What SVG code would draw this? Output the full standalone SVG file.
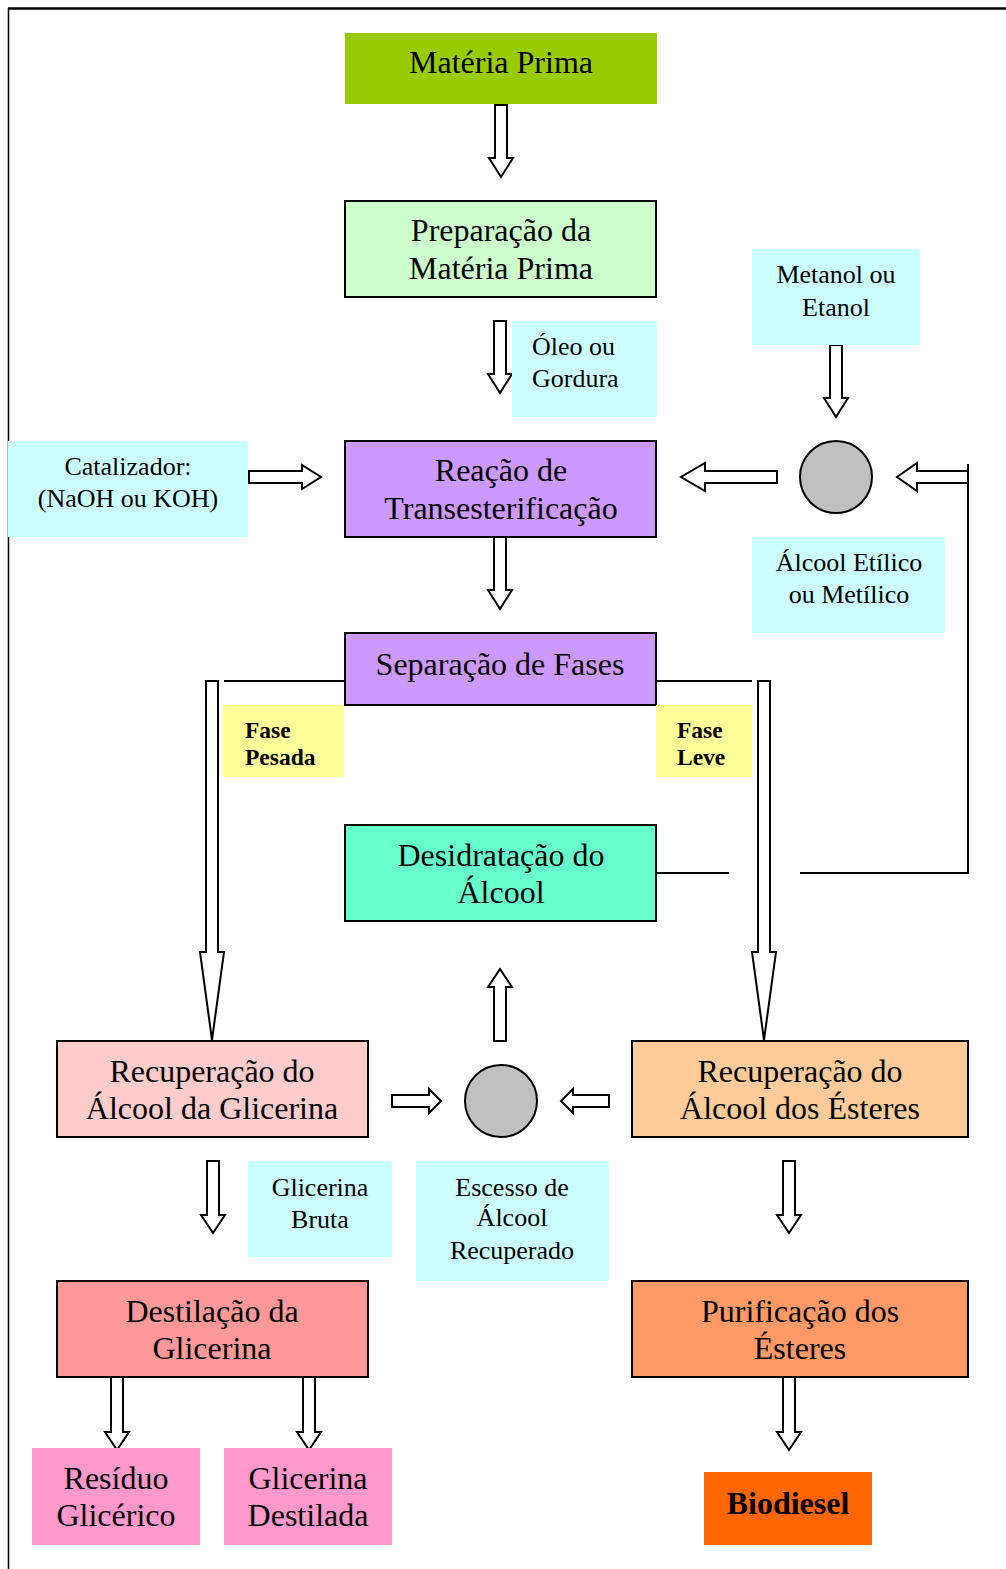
<svg xmlns="http://www.w3.org/2000/svg" width="1006" height="1569" viewBox="0 0 1006 1569">
<style>
.box{stroke:#000;stroke-width:2}
.lbl{stroke:none}
.t{font-family:"Liberation Serif","Times New Roman",serif;font-size:32px;text-anchor:middle;fill:#000}
.s{font-family:"Liberation Serif","Times New Roman",serif;font-size:26px;text-anchor:middle;fill:#000}
.sl{font-family:"Liberation Serif","Times New Roman",serif;font-size:26px;fill:#000}
.b{font-family:"Liberation Serif","Times New Roman",serif;font-size:23.5px;font-weight:bold;fill:#000}
.arr{fill:#fff;stroke:#000;stroke-width:2;stroke-linejoin:miter}
.ln{fill:none;stroke:#000;stroke-width:2}
</style>
<rect width="1006" height="1569" fill="#fff"/>
<g id="frame">
<line x1="8" y1="8.5" x2="1006" y2="8.5" stroke="#000" stroke-width="2.5"/>
<line x1="8.5" y1="8" x2="8.5" y2="1569" stroke="#000" stroke-width="1.5"/>
</g>
<g id="connectors">
<path class="arr" d="M495,105 H507 V158 H513 L501,177 L489,158 H495 Z"/>
<path class="arr" d="M494,321 H506 V374 H512 L500,393 L488,374 H494 Z"/>
<path class="arr" d="M830,345 H842 V398 H848 L836,417 L824,398 H830 Z"/>
<path class="arr" d="M249,471 H302 V465 L321,477 L302,489 V483 H249 Z"/>
<path class="arr" d="M777,471 H705 V463 L681,477 L705,491 V483 H777 Z"/>
<path class="arr" d="M968,471 H917 V463 L897,477 L917,491 V483 H968 Z"/>
<polyline class="ln" points="968,464 968,873 800,873"/>
<path class="arr" d="M494,537 H506 V590 H512 L500,609 L488,590 H494 Z"/>
<line class="ln" x1="224" y1="681" x2="345" y2="681"/>
<line class="ln" x1="656" y1="681" x2="752" y2="681"/>
<path class="arr" d="M206,681 H218 V952 H224 L212,1040 L200,952 H206 Z"/>
<path class="arr" d="M758,681 H770 V952 H776 L764,1040 L752,952 H758 Z"/>
<line class="ln" x1="656" y1="873" x2="729" y2="873"/>
<path class="arr" d="M494,1041 H506 V987 H512 L500,969 L488,987 H494 Z"/>
<path class="arr" d="M392,1095 H429 V1089 L441,1101 L429,1113 V1107 H392 Z"/>
<path class="arr" d="M609,1095 H573 V1089 L561,1101 L573,1113 V1107 H609 Z"/>
<path class="arr" d="M207,1161 H219 V1215 H225 L213,1233 L201,1215 H207 Z"/>
<path class="arr" d="M783,1161 H795 V1215 H801 L789,1233 L777,1215 H783 Z"/>
<path class="arr" d="M111,1377 H123 V1432 H129 L117,1450 L105,1432 H111 Z"/>
<path class="arr" d="M303,1377 H315 V1432 H321 L309,1450 L297,1432 H303 Z"/>
<path class="arr" d="M783,1377 H795 V1432 H801 L789,1450 L777,1432 H783 Z"/>
</g>
<g id="materia-prima">
<rect class="lbl" x="345" y="33" width="312" height="71" fill="#99CC00"/>
<text class="t" x="501" y="73">Matéria Prima</text>
</g>
<g id="preparacao">
<rect class="box" x="345" y="201" width="311" height="96" fill="#CCFFCC"/>
<text class="t" x="501" y="241">Preparação da</text>
<text class="t" x="501" y="279">Matéria Prima</text>
</g>
<g id="oleo">
<rect class="lbl" x="512" y="321" width="145" height="96" fill="#CCFFFF"/>
<text class="sl" x="532" y="355">Óleo ou</text>
<text class="sl" x="532" y="387">Gordura</text>
</g>
<g id="metanol">
<rect class="lbl" x="752" y="249" width="168" height="96" fill="#CCFFFF"/>
<text class="s" x="836" y="283">Metanol ou</text>
<text class="s" x="836" y="316">Etanol</text>
</g>
<g id="catalizador">
<rect class="lbl" x="8" y="441" width="240" height="96" fill="#CCFFFF"/>
<text class="s" x="128" y="475">Catalizador:</text>
<text class="s" x="128" y="507">(NaOH ou KOH)</text>
</g>
<g id="reacao">
<rect class="box" x="345" y="441" width="311" height="96" fill="#CC99FF"/>
<text class="t" x="501" y="481">Reação de</text>
<text class="t" x="501" y="519">Transesterificação</text>
</g>
<g id="mistura-alcool">
<circle cx="836" cy="477" r="36" fill="#C0C0C0" stroke="#000" stroke-width="2"/>
</g>
<g id="alcool-etilico">
<rect class="lbl" x="752" y="537" width="193" height="96" fill="#CCFFFF"/>
<text class="s" x="849" y="571">Álcool Etílico</text>
<text class="s" x="849" y="603">ou Metílico</text>
</g>
<g id="separacao">
<rect class="box" x="345" y="633" width="311" height="72" fill="#CC99FF"/>
<text class="t" x="500" y="675">Separação de Fases</text>
</g>
<g id="fase-pesada">
<rect class="lbl" x="223" y="705" width="121" height="72" fill="#FFFF99"/>
<text class="b" x="245" y="738">Fase</text>
<text class="b" x="245" y="765">Pesada</text>
</g>
<g id="fase-leve">
<rect class="lbl" x="656" y="705" width="96" height="72" fill="#FFFF99"/>
<text class="b" x="677" y="738">Fase</text>
<text class="b" x="677" y="765">Leve</text>
</g>
<g id="desidratacao">
<rect class="box" x="345" y="825" width="311" height="96" fill="#66FFCC"/>
<text class="t" x="501" y="866">Desidratação do</text>
<text class="t" x="501" y="903">Álcool</text>
</g>
<g id="recup-glicerina">
<rect class="box" x="57" y="1041" width="311" height="96" fill="#FFCCCC"/>
<text class="t" x="212" y="1082">Recuperação do</text>
<text class="t" x="212" y="1119">Álcool da Glicerina</text>
</g>
<g id="mistura-recuperada">
<circle cx="501" cy="1101" r="36" fill="#C0C0C0" stroke="#000" stroke-width="2"/>
</g>
<g id="recup-esteres">
<rect class="box" x="632" y="1041" width="336" height="96" fill="#FFCC99"/>
<text class="t" x="800" y="1082">Recuperação do</text>
<text class="t" x="800" y="1119">Álcool dos Ésteres</text>
</g>
<g id="glicerina-bruta">
<rect class="lbl" x="248" y="1161" width="144" height="96" fill="#CCFFFF"/>
<text class="s" x="320" y="1196">Glicerina</text>
<text class="s" x="320" y="1228">Bruta</text>
</g>
<g id="escesso">
<rect class="lbl" x="416" y="1161" width="193" height="120" fill="#CCFFFF"/>
<text class="s" x="512" y="1196">Escesso de</text>
<text class="s" x="512" y="1226">Álcool</text>
<text class="s" x="512" y="1259">Recuperado</text>
</g>
<g id="destilacao">
<rect class="box" x="57" y="1281" width="311" height="96" fill="#FF9999"/>
<text class="t" x="212" y="1322">Destilação da</text>
<text class="t" x="212" y="1359">Glicerina</text>
</g>
<g id="purificacao">
<rect class="box" x="632" y="1281" width="336" height="96" fill="#FF9966"/>
<text class="t" x="800" y="1322">Purificação dos</text>
<text class="t" x="800" y="1359">Ésteres</text>
</g>
<g id="residuo">
<rect class="lbl" x="32" y="1448" width="168" height="97" fill="#FF99CC"/>
<text class="t" x="116" y="1489">Resíduo</text>
<text class="t" x="116" y="1526">Glicérico</text>
</g>
<g id="glicerina-destilada">
<rect class="lbl" x="224" y="1448" width="168" height="97" fill="#FF99CC"/>
<text class="t" x="308" y="1489">Glicerina</text>
<text class="t" x="308" y="1526">Destilada</text>
</g>
<g id="biodiesel">
<rect class="lbl" x="704" y="1472" width="168" height="73" fill="#FF6600"/>
<text class="t" x="788" y="1514" font-weight="bold">Biodiesel</text>
</g>
</svg>
